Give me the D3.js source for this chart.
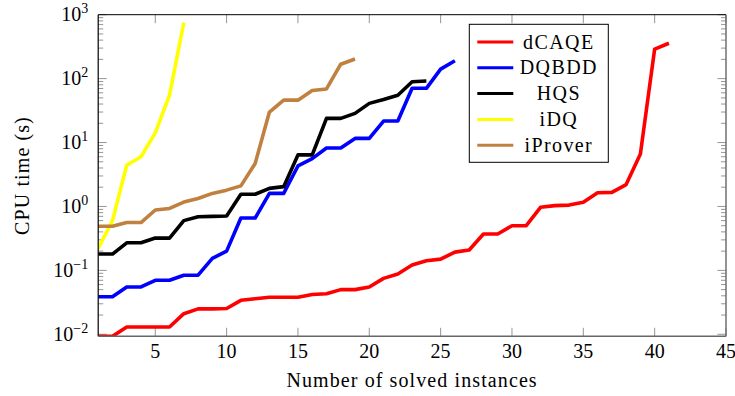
<!DOCTYPE html>
<html>
<head>
<meta charset="utf-8">
<script src="https://cdn.jsdelivr.net/npm/d3@7"></script>
<style>
    body { margin: 0; background: #fff; }
    text { font-family: 'Liberation Serif', 'DejaVu Serif', serif; fill: #000; }
</style>
</head>
<body>
<div id="chart"></div>
<script>
// Solved instances (x) vs. CPU time in seconds (y), one array per solver
const dCAQE = [0.0093, 0.0093, 0.013, 0.013, 0.013, 0.013, 0.021, 0.025, 0.025, 0.0253,
    0.034, 0.036, 0.038, 0.038, 0.038, 0.042, 0.043, 0.050, 0.050, 0.055,
    0.075, 0.088, 0.121, 0.141, 0.150, 0.193, 0.208, 0.37, 0.37, 0.50,
    0.50, 0.97, 1.03, 1.05, 1.16, 1.64, 1.66, 2.2, 6.6, 290, 357];
const DQBDD = [0.0386, 0.0386, 0.055, 0.055, 0.070, 0.070, 0.084, 0.084, 0.154, 0.20,
    0.66, 0.66, 1.6, 1.6, 4.3, 5.6, 8.2, 8.2, 11.6, 11.6,
    21.7, 21.7, 70.5, 70.5, 141, 190];
const HQS = [0.18, 0.18, 0.27, 0.27, 0.32, 0.32, 0.60, 0.69, 0.70, 0.71,
    1.55, 1.55, 1.92, 2.04, 6.4, 6.4, 23.9, 23.9, 28.6, 41,
    47, 55, 89.5, 92];
const iDQ = [0.22, 0.6, 4.4, 6.0, 14.2, 55, 750];
const iProver = [0.49, 0.49, 0.56, 0.56, 0.88, 0.93, 1.17, 1.33, 1.6, 1.8,
    2.1, 4.7, 30, 46, 46, 65, 69, 168, 203];

const seriesNames = ['dCAQE', 'DQBDD', 'HQS', 'iDQ', 'iProver'];
const seriesValues = [dCAQE, DQBDD, HQS, iDQ, iProver];
const seriesColors = ['#ff0000', '#0000ff', '#000000', '#ffff00', '#bf8040'];

const xTicks = [5, 10, 15, 20, 25, 30, 35, 40, 45];
const yDecades = [-2, -1, 0, 1, 2, 3];

const width = 735, height = 396;
const margin = { top: 14.7, right: 9, bottom: 59.7, left: 98.2 };
const innerW = width - margin.left - margin.right;
const innerH = height - margin.top - margin.bottom;

const svg = d3.select('#chart').append('svg')
    .attr('width', width)
    .attr('height', height);

const g = svg.append('g')
    .attr('transform', `translate(${margin.left},${margin.top})`);

const x = d3.scaleLinear().domain([1, 45]).range([0, innerW]);
const y = d3.scaleLog().domain([0.0093, 1000]).range([innerH, 0]);

// clip lines to the plot box
svg.append('defs').append('clipPath')
    .attr('id', 'plot-clip')
    .append('rect')
    .attr('width', innerW)
    .attr('height', innerH);

// minor + major ticks on the log axis (drawn inward, both sides)
const minorY = [];
yDecades.forEach(e => {
    for (let k = 2; k <= 9; k++) {
        const v = k * Math.pow(10, e);
        if (v >= y.domain()[0] && v <= y.domain()[1]) minorY.push(v);
    }
});
const majorY = yDecades.map(e => Math.pow(10, e));

const tickColor = '#7a7a7a';

[0, innerW].forEach((edge, side) => {
    const dir = side === 0 ? 1 : -1;
    g.selectAll(null)
        .data(minorY)
        .enter().append('line')
        .attr('x1', edge).attr('x2', edge + dir * 5)
        .attr('y1', d => y(d)).attr('y2', d => y(d))
        .attr('stroke', tickColor).attr('stroke-width', 0.8);
    g.selectAll(null)
        .data(majorY)
        .enter().append('line')
        .attr('x1', edge).attr('x2', edge + dir * 8.5)
        .attr('y1', d => y(d)).attr('y2', d => y(d))
        .attr('stroke', tickColor).attr('stroke-width', 0.8);
});

[innerH, 0].forEach((edge, side) => {
    const dir = side === 0 ? -1 : 1;
    g.selectAll(null)
        .data(xTicks)
        .enter().append('line')
        .attr('x1', d => x(d)).attr('x2', d => x(d))
        .attr('y1', edge).attr('y2', edge + dir * 8.5)
        .attr('stroke', tickColor).attr('stroke-width', 0.8);
});

// series lines
const line = d3.line()
    .x((d, i) => x(i + 1))
    .y(d => y(d));

const plot = g.append('g').attr('clip-path', 'url(#plot-clip)');
plot.selectAll('.series')
    .data(seriesValues)
    .enter().append('path')
    .attr('class', 'series')
    .attr('d', d => line(d))
    .attr('fill', 'none')
    .attr('stroke', (d, i) => seriesColors[i])
    .attr('stroke-width', 3.6)
    .attr('stroke-linejoin', 'round');

// frame
g.append('line').attr('x1', 0).attr('x2', innerW).attr('y1', 0).attr('y2', 0)
    .attr('stroke', '#000').attr('stroke-width', 1);
g.append('line').attr('x1', 0).attr('x2', 0).attr('y1', 0).attr('y2', innerH)
    .attr('stroke', '#000').attr('stroke-width', 1.2);
g.append('line').attr('x1', 0).attr('x2', innerW).attr('y1', innerH).attr('y2', innerH)
    .attr('stroke', '#666').attr('stroke-width', 1.4);
g.append('line').attr('x1', innerW).attr('x2', innerW).attr('y1', 0).attr('y2', innerH)
    .attr('stroke', '#666').attr('stroke-width', 1.4);

// x tick labels
g.selectAll('.xlabel')
    .data(xTicks)
    .enter().append('text')
    .attr('class', 'xlabel')
    .attr('x', d => x(d))
    .attr('y', innerH + 22)
    .attr('text-anchor', 'middle')
    .attr('font-size', '20px')
    .text(d => d);

// y tick labels, 10 with superscript exponent
const ylab = g.selectAll('.ylabel')
    .data(yDecades)
    .enter().append('text')
    .attr('class', 'ylabel')
    .attr('x', -10)
    .attr('y', d => y(Math.pow(10, d)) + 6.5)
    .attr('text-anchor', 'end')
    .attr('font-size', '20px');
ylab.append('tspan').text('10');
ylab.append('tspan')
    .attr('dy', -8)
    .attr('font-size', '14px')
    .text(d => d < 0 ? '\u2212' + Math.abs(d) : d);

// axis titles
svg.append('text')
    .attr('x', margin.left + innerW / 2)
    .attr('y', 386.5)
    .attr('text-anchor', 'middle')
    .attr('font-size', '20px')
    .attr('letter-spacing', '1.1px')
    .text('Number of solved instances');

svg.append('text')
    .attr('transform', `translate(29,${margin.top + innerH / 2}) rotate(-90)`)
    .attr('text-anchor', 'middle')
    .attr('font-size', '20px')
    .attr('letter-spacing', '1.1px')
    .text('CPU time (s)');

// legend
const legend = svg.append('g').attr('transform', 'translate(469.3,24.3)');
legend.append('rect')
    .attr('width', 139)
    .attr('height', 138)
    .attr('fill', '#fff')
    .attr('stroke', '#000')
    .attr('stroke-width', 1);

const entries = legend.selectAll('.entry')
    .data(seriesNames)
    .enter().append('g')
    .attr('class', 'entry')
    .attr('transform', (d, i) => `translate(0,${17.7 + i * 25.8})`);

entries.append('line')
    .attr('x1', 8).attr('x2', 44)
    .attr('stroke', (d, i) => seriesColors[i])
    .attr('stroke-width', 3);

entries.append('text')
    .attr('x', 89.5)
    .attr('y', 6.5)
    .attr('text-anchor', 'middle')
    .attr('font-size', '20px')
    .attr('letter-spacing', '1.4px')
    .text(d => d);
</script>
</body>
</html>
